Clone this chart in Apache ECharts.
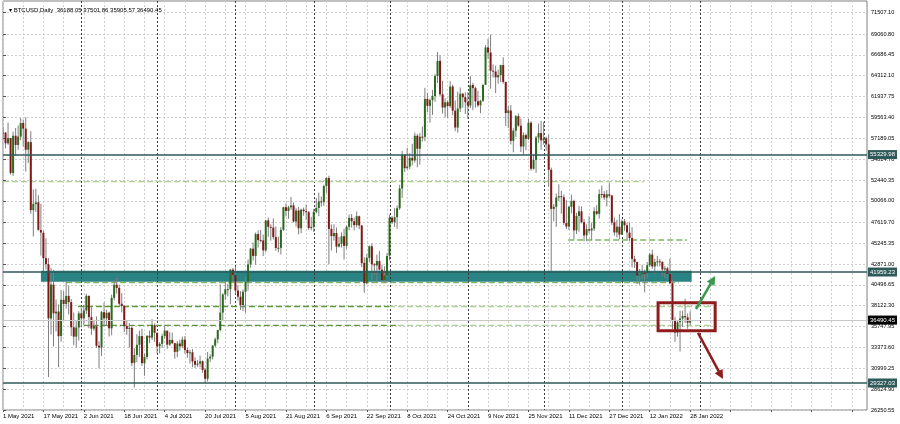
<!DOCTYPE html>
<html><head><meta charset="utf-8">
<script src="https://cdn.jsdelivr.net/npm/echarts@6/dist/echarts.min.js"></script>
<style>html,body{margin:0;padding:0;background:#fff}#c{width:900px;height:424px}</style>
</head><body><div id="c"></div>
<script>
// ---- DATA (rows: [open, high, low, close]) ----
const may21 = [[57714,58448,57052,57828],[57828,57911,56035,56610],[56610,58981,56438,57213],[57214,57214,53046,53241],[53241,57939,52900,57473],[57473,58360,55200,56428],[56429,58650,55874,57380],[57380,59500,56957,58928],[58928,59300,56235,58280],[58281,59592,53400,55883],[55883,56862,54370,56750],[56750,58000,48600,49007],[49007,51367,46000,49717],[49690,51440,48800,49880],[49893,50700,46650,46760],[46736,49720,43825,46456],[46427,46643,42001,43538],[43538,45800,42250,42850],[42850,43546,30000,36690],[36672,42451,34850,40526],[40526,42200,33488,37252],[37253,38832,35200,37449],[37458,38270,31111,34655],[34682,39920,34031,38796],[38799,39791,36419,38325],[38324,40841,37800,39241],[39242,40411,37134,38529],[38530,38877,34684,35663],[35661,37338,33632,34605],[34606,36488,33379,35641],[35641,37499,34153,37254]];
const jun21 = [[37254,37894,35666,36693],[36694,38225,35920,37568],[37568,39477,37170,39246],[39246,39289,35567,36829],[36829,37925,34800,35513],[35516,36480,35258,35796],[35796,36900,33300,33552],[33556,34068,31000,33380],[33380,37534,32396,37389],[37389,38491,35782,36693],[36697,37680,35936,37313],[37340,37448,34600,35551],[35546,39380,34757,39020],[39020,41064,38730,40516],[40517,41330,39506,40144],[40156,40527,38116,38349],[38349,39559,37365,38092],[38092,38202,35129,35819],[35820,36457,34803,35483],[35483,36137,33336,35600],[35600,35750,31251,31608],[31614,33298,28805,32509],[32509,34881,31683,33678],[33675,35298,32286,34663],[34663,35500,31275,31584],[31577,32700,30151,32283],[32283,34749,32000,34700],[34702,35297,33862,34494],[34494,36600,34226,35911],[35911,36100,34017,35045]];
const jul21 = [[35045,35057,32711,33504],[33502,33977,32699,33786],[33786,34945,33316,34669],[34668,35967,34357,35287],[35284,35284,33213,33690],[33690,35118,33532,34220],[34220,35059,33777,33862],[33862,33900,32077,32875],[32875,34100,32261,33815],[33824,34263,33004,33502],[33502,34600,33310,34259],[34259,34678,32658,33087],[33086,33340,32202,32730],[32729,33114,31550,32820],[32820,33185,31133,31780],[31841,32249,31020,31389],[31397,31935,31164,31533],[31533,32435,31108,31796],[31800,31885,30480,30817],[30839,31063,29278,29807],[29808,32859,29482,32110],[32111,32591,31708,32314],[32314,33650,32000,33581],[33581,34500,33401,34293],[34293,35398,33851,35350],[35351,40550,35205,37338],[37338,39542,36383,39406],[39406,40900,38772,39995],[39996,40640,39200,40008],[40009,42316,38313,42235],[42236,42414,41064,41626]];
const aug21 = [[41626,42599,39422,39846],[39845,40459,38690,39147],[39148,39780,37642,38207],[38208,39969,37508,39723],[39723,41350,37332,40862],[40862,43392,39853,42836],[42836,44700,42446,44614],[44614,45310,43261,43792],[43794,46454,42779,46285],[46281,46700,44730,45595],[45595,46743,45341,45555],[45555,46218,43771,44428],[44428,47886,44217,47834],[47835,48144,45971,47109],[47099,47400,45525,47015],[47019,48054,45662,45936],[45937,47160,44376,44695],[44687,46000,44203,44710],[44709,47088,43955,46760],[46769,49382,46644,49339],[49339,49757,48285,48905],[48905,49500,48005,49321],[49321,50500,49035,49546],[49546,49875,47600,47706],[47707,49240,47135,48960],[48960,49372,46250,46942],[46942,49167,46360,49058],[49064,49311,48370,48895],[48895,49647,47887,48767],[48767,48907,46753,46970],[46970,48250,46700,47100]];
const sep21 = [[47100,49156,46513,48811],[48811,50392,48629,49246],[49246,51000,48316,49999],[49999,50558,49400,49915],[49918,51900,49500,51756],[51756,52780,50969,52663],[52666,52920,42843,46863],[46868,47381,44412,46048],[46048,47400,45513,46395],[46396,47031,44132,44851],[44851,45970,44742,45171],[45172,46460,44742,46025],[46026,46880,43370,44940],[44940,47250,44594,47112],[47103,48500,46700,48121],[48121,48557,47021,47737],[47738,48150,46700,47300],[47300,48843,47033,48314],[48310,48372,46829,47261],[47261,47328,42500,42970],[43003,43639,39600,40693],[40694,44000,40565,43574],[43574,44978,43063,44895],[44895,45200,40675,42839],[42840,42970,41646,42717],[42716,43937,40800,43208],[43208,44350,42098,42235],[42236,42788,40888,41034],[41034,42616,40753,41564],[41564,44141,41410,43790]];
const oct21 = [[43820,48495,43283,48141],[48142,48336,47430,47634],[47633,49228,47088,48200],[48200,49536,46891,49224],[49225,51886,49022,51471],[51471,55750,50382,55315],[55315,55332,53357,53785],[53785,56100,53617,53951],[53955,55490,53661,54949],[54949,56561,54080,54660],[54659,57839,54415,57471],[57471,57680,53879,55996],[55996,57777,54167,57367],[57370,58532,56818,57347],[57347,62933,56850,61672],[61672,62378,60150,60875],[60875,61718,58963,61528],[61528,62695,59844,62009],[62005,64486,61322,64280],[64280,67000,63481,66001],[66002,66639,62000,62193],[62193,63732,60000,60688],[60689,61747,59562,61286],[61286,61500,59510,60852],[60852,63710,60650,63078],[63079,63293,59817,60328],[60329,61496,58000,58413],[58413,62499,57820,60575],[60576,62980,60174,62253],[62253,62359,60673,61859],[61860,62405,59945,61299]];
const nov21 = [[61300,62437,59405,60911],[60911,64270,60624,63219],[63254,63500,60382,62896],[62896,63086,60677,61395],[61396,62595,60721,60937],[60940,61560,60050,61470],[61470,63286,61322,63273],[63273,67789,63273,67525],[67526,68524,66222,66947],[66947,69000,62822,64882],[64883,65600,64100,64774],[64774,65460,62333,64122],[64122,64990,63401,64380],[64380,65550,63576,65519],[65519,66401,63400,63606],[63606,63617,58575,60058],[60059,60840,58373,60345],[60345,60977,56474,56891],[56891,58320,55600,58052],[58052,59846,57353,59707],[59707,60029,58486,58623],[58617,59444,55610,56247],[56247,57875,55317,57541],[57541,57735,55837,57138],[57139,59398,56979,58960],[58960,59150,53500,53726],[53723,55280,53610,54721],[54716,57445,53256,57274],[57274,58865,56666,57776],[57777,59176,55875,56950]];
const dec21 = [[56951,59053,56458,57184],[57185,57375,55777,56481],[56485,57600,51680,53601],[53602,53859,42000,49152],[49153,49699,47727,49397],[49397,50891,47100,50441],[50441,51936,50039,50588],[50589,51200,48600,50471],[50472,50797,47320,47545],[47536,50125,46852,47140],[47140,49485,46751,49389],[49389,50777,48638,50054],[50054,50189,45672,46702],[46702,48700,46290,48343],[48336,49500,46547,48864],[48864,49436,47511,47632],[47632,47995,45456,46131],[46134,47392,45500,46834],[46835,48300,46406,46682],[46681,47537,45558,46914],[46914,49328,46630,48889],[48887,49576,48421,48588],[48588,51375,48049,50838],[50838,51810,50384,50821],[50821,51156,50171,50429],[50428,51280,49412,50809],[50802,52088,50450,50640],[50680,50704,47313,47588],[47623,48139,46096,46464],[46464,47900,45900,47120],[47120,48548,45678,46216]];
const jan22 = [[46217,47954,46208,47722],[47722,47990,46654,47286],[47286,47570,45696,46446],[46446,47557,45501,45832],[45832,47070,42500,43451],[43452,43816,42430,43082],[43082,43145,40610,41566],[41567,42300,40501,41680],[41680,42786,41200,41864],[41864,42248,39650,41822],[41822,43100,41268,42735],[42736,44135,42528,43949],[43949,44500,42311,42592],[42592,43448,41725,43099],[43099,43800,42600,43177],[43177,43476,42581,43113],[43113,43180,41540,42250],[42250,42664,41250,42375],[42375,42550,41078,41744],[41744,43505,40553,40680],[40680,41100,35440,36445],[36445,36835,34008,35071],[35071,36499,34601,36244],[36244,37550,32917,36660],[36660,37545,35701,36958],[36958,38920,36155,36809],[36808,37234,35507,36188],[36188.05,37501.86,35905.57,36490.45]];

const yTicks = [26250.55,28624.90,30999.25,33373.60,35747.95,38122.30,40496.65,42871.00,45245.35,47619.70,50066.00,52440.35,54814.70,57189.05,59563.40,61937.75,64312.10,66686.45,69060.80,71507.10];
const levelLines = [55329.98, 41959.23, 29327.03];
const bidPrice = 36490.45;
const headerText = 'BTCUSD,Daily  36188.05 37501.86 35905.57 36490.45';
// annotations in data coords: [fromIndex, price, toIndex, price]
const bandRect = [[15.0, 42100, 272.6, 40850]];
const dashedLight = [[0, 52242, 253.8, 52242],[152.8, 38034, 281, 38034],[156.4, 35893, 280, 35893]];
const dashedDark = [[29.7, 38034, 152.8, 38034],[32, 35893, 156.4, 35893]];
const dashedMid = [[25, 40744, 267.6, 40744],[223.7, 45605, 270.8, 45605]];
const boxRect = [[259.3, 38466, 281.9, 35278]];
const arrowUp = [[274.3, 37749, 281.9, 41506]];
const arrowDown = [[275.1, 35022, 285.0, 29785]];

// ---- build ----
const ohlc = [].concat(may21, jun21, jul21, aug21, sep21, oct21, nov21, dec21, jan22);
const lastIdx = ohlc.length - 1;
const MONTHS = ['Jan','Feb','Mar','Apr','May','Jun','Jul','Aug','Sep','Oct','Nov','Dec'];
const NCAT = 343;
const categories = [];
const monthStarts = [];
for (let i = 0; i < NCAT; i++) {
  const d = new Date(Date.UTC(2021, 4, 1 + i));
  categories.push(d.getUTCDate() + ' ' + MONTHS[d.getUTCMonth()] + ' ' + d.getUTCFullYear());
  if (i > 0 && d.getUTCDate() === 1 && i <= lastIdx + 6) monthStarts.push([i]);
}
const candleRows = ohlc.map((r, i) => [i, r[0], r[3], r[2], r[1]]);
const FONT = 'Liberation Sans';
const yMin = 26250.55, yMax = 72815;

function segSeries(data, color, dash, width, z) {
  return {
    type: 'custom', xAxisIndex: 1, silent: true, z: z, data: data,
    encode: {x: [0, 2], y: [1, 3]},
    renderItem: function (params, api) {
      const p1 = api.coord([api.value(0), api.value(1)]);
      const p2 = api.coord([api.value(2), api.value(3)]);
      return {type: 'line', shape: {x1: p1[0], y1: p1[1], x2: p2[0], y2: p2[1]},
        style: {stroke: color, lineWidth: width, lineDash: dash}};
    }
  };
}
function arrowSeries(data, color) {
  return {
    type: 'custom', xAxisIndex: 1, silent: true, z: 6, data: data,
    encode: {x: [0, 2], y: [1, 3]},
    renderItem: function (params, api) {
      const p1 = api.coord([api.value(0), api.value(1)]);
      const p2 = api.coord([api.value(2), api.value(3)]);
      const dx = p2[0] - p1[0], dy = p2[1] - p1[1];
      const len = Math.sqrt(dx * dx + dy * dy);
      const ux = dx / len, uy = dy / len, px = -uy, py = ux;
      const L = 9, W = 4.5;
      const bx = p2[0] - ux * L, by = p2[1] - uy * L;
      return {type: 'group', children: [
        {type: 'line', shape: {x1: p1[0], y1: p1[1], x2: bx + ux * 2, y2: by + uy * 2}, style: {stroke: color, lineWidth: 2.5}},
        {type: 'polygon', shape: {points: [[p2[0], p2[1]], [bx + px * W, by + py * W], [bx - px * W, by - py * W]]}, style: {fill: color}}
      ]};
    }
  };
}

const levelLabel = (v, bg) => ({
  yAxis: v,
  lineStyle: {color: bg === '#000' ? '#c8c8c8' : '#2f5a5a', width: bg === '#000' ? 1 : 1.5, type: 'solid'},
  label: {show: true, position: 'end', distance: 1, formatter: v.toFixed(2), color: '#fff',
    backgroundColor: bg, fontSize: 6, fontFamily: FONT, padding: [2, 2, 1, 2]}
});

const option = {
  animation: false,
  backgroundColor: '#ffffff',
  textStyle: {fontFamily: FONT},
  title: {text: '\u25BE ' + headerText, left: 4, top: 2,
    textStyle: {fontSize: 6, fontWeight: 'normal', color: '#000', fontFamily: FONT}},
  grid: {left: 2, right: 33, top: 1, bottom: 14, show: true, borderColor: '#808080', borderWidth: 1, backgroundColor: '#fff'},
  xAxis: [{
    type: 'category', data: categories, boundaryGap: false,
    axisLine: {show: false},
    axisTick: {show: true, interval: 15, length: 2, lineStyle: {color: '#555'}},
    axisLabel: {interval: 15, fontSize: 6, color: '#000', align: 'left', margin: 3, fontFamily: FONT,
      formatter: function (v, i) { return i <= lastIdx ? v : ''; }},
    splitLine: {show: true, interval: 7, lineStyle: {color: '#cfcfcf', type: [2, 2], width: 1}}
  }, {
    type: 'value', min: 0, max: NCAT - 1, show: false, splitLine: {show: false}
  }],
  yAxis: [{
    type: 'value', position: 'right', min: yMin, max: yMax, scale: true,
    axisLine: {show: false},
    axisTick: {show: true, length: 3, customValues: yTicks, lineStyle: {color: '#555'}},
    axisLabel: {customValues: yTicks, fontSize: 5.6, color: '#000', margin: 4, fontFamily: FONT,
      formatter: function (v) { return Number(v).toFixed(2); }},
    splitLine: {show: true, lineStyle: {color: '#cfcfcf', type: [2, 2], width: 1}}
  }],
  series: [
    {
      type: 'custom', xAxisIndex: 1, silent: true, z: 1, data: bandRect,
      encode: {x: [0, 2], y: [1, 3]},
      renderItem: function (params, api) {
        const p1 = api.coord([api.value(0), api.value(1)]);
        const p2 = api.coord([api.value(2), api.value(3)]);
        return {type: 'rect', shape: {x: p1[0], y: p1[1], width: p2[0] - p1[0], height: p2[1] - p1[1]}, style: {fill: '#2a8383'}};
      }
    },
    {
      type: 'custom', xAxisIndex: 0, silent: true, z: 1, data: monthStarts,
      encode: {x: 0},
      renderItem: function (params, api) {
        const x = api.coord([api.value(0), yMin])[0];
        const cs = params.coordSys;
        return {type: 'line', shape: {x1: Math.round(x) + 0.5, y1: cs.y, x2: Math.round(x) + 0.5, y2: cs.y + cs.height},
          style: {stroke: '#3a3a3a', lineWidth: 1, lineDash: [2, 2]}};
      }
    },
    segSeries(dashedLight, '#aed294', [6, 3], 1.3, 2),
    segSeries(dashedDark, '#5a9c38', [6, 3], 1.3, 2),
    segSeries(dashedMid, '#7fb85c', [6, 3], 1.3, 2),
    {
      type: 'custom', xAxisIndex: 0, z: 3, silent: true, clip: true, data: candleRows,
      encode: {x: 0, y: [1, 2, 3, 4]},
      renderItem: function (params, api) {
        const i = api.value(0), o = api.value(1), c = api.value(2), l = api.value(3), h = api.value(4);
        const pO = api.coord([i, o]), pC = api.coord([i, c]), pH = api.coord([i, h]), pL = api.coord([i, l]);
        const x = pO[0], bw = 2;
        const top = Math.min(pO[1], pC[1]);
        let hg = Math.abs(pO[1] - pC[1]); if (hg < 1) hg = 1;
        return {type: 'group', children: [
          {type: 'line', shape: {x1: x, y1: pH[1], x2: x, y2: pL[1]}, style: {stroke: '#7e7e7e', lineWidth: 1}},
          {type: 'rect', shape: {x: x - bw / 2, y: top, width: bw, height: hg}, style: {fill: c >= o ? '#2a6a1e' : '#801818'}}
        ]};
      },
      markLine: {
        silent: true, symbol: ['none', 'none'], animation: false,
        data: [levelLabel(levelLines[0], '#2f5a5a'), levelLabel(levelLines[1], '#2f5a5a'), levelLabel(levelLines[2], '#2f5a5a'), levelLabel(bidPrice, '#000')]
      }
    },
    {
      type: 'custom', xAxisIndex: 1, silent: true, z: 5, data: boxRect,
      encode: {x: [0, 2], y: [1, 3]},
      renderItem: function (params, api) {
        const p1 = api.coord([api.value(0), api.value(1)]);
        const p2 = api.coord([api.value(2), api.value(3)]);
        return {type: 'rect', shape: {x: p1[0], y: p1[1], width: p2[0] - p1[0], height: p2[1] - p1[1]},
          style: {fill: 'none', stroke: '#8e1c1c', lineWidth: 3}};
      }
    },
    arrowSeries(arrowUp, '#3a9a50'),
    arrowSeries(arrowDown, '#8e1c1c')
  ]
};
const chart = echarts.init(document.getElementById('c'), null, {renderer: 'canvas'});
chart.setOption(option);
</script></body></html>
